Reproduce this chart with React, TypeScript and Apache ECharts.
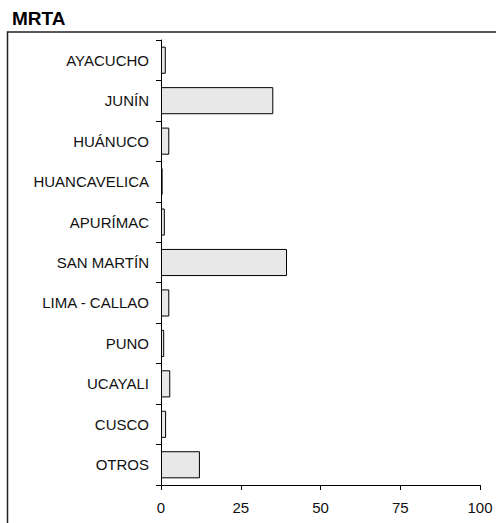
import React, { useEffect, useRef } from "react";
import * as echarts from "echarts";

const categories = [
  "AYACUCHO",
  "JUNÍN",
  "HUÁNUCO",
  "HUANCAVELICA",
  "APURÍMAC",
  "SAN MARTÍN",
  "LIMA - CALLAO",
  "PUNO",
  "UCAYALI",
  "CUSCO",
  "OTROS",
];
const values = [1.5, 35.2, 2.6, 0.5, 1.2, 39.5, 2.6, 1.0, 2.9, 1.6, 12.2];
const xTicks = [0, 25, 50, 75, 100];
const title = "MRTA";

const FONT = "'Liberation Sans', Arial, sans-serif";

export default function App() {
  const ref = useRef<HTMLDivElement>(null);
  useEffect(() => {
    if (!ref.current) return;
    const chart = echarts.init(ref.current, null, { renderer: "svg" });
    chart.setOption({
      animation: false,
      backgroundColor: "#fff",
      title: {
        text: title,
        left: 12,
        top: 9,
        padding: 0,
        textStyle: { fontFamily: FONT, fontSize: 19, fontWeight: "bold", color: "#000" },
      },
      graphic: [
        {
          type: "rect",
          shape: { x: 7.5, y: 32, width: 700, height: 700 },
          style: { fill: "none", stroke: "#222", lineWidth: 1.5 },
          z: 0,
        },
      ],
      grid: { left: 161, right: 16, top: 40, bottom: 38, containLabel: false },
      xAxis: {
        type: "value",
        min: xTicks[0],
        max: xTicks[xTicks.length - 1],
        interval: 25,
        axisLine: { show: true, lineStyle: { color: "#000", width: 1 } },
        axisTick: { show: true, length: 5, lineStyle: { color: "#000" } },
        axisLabel: { fontFamily: FONT, fontSize: 15, color: "#111", margin: 15 },
        splitLine: { show: false },
      },
      yAxis: {
        type: "category",
        data: categories,
        inverse: true,
        axisLine: { show: true, lineStyle: { color: "#000", width: 1 } },
        axisTick: { show: true, length: 5, lineStyle: { color: "#000" } },
        axisLabel: { fontFamily: FONT, fontSize: 15, color: "#111", margin: 12 },
      },
      series: [
        {
          type: "bar",
          data: values,
          barCategoryGap: "33%",
          z: 3,
          itemStyle: { color: "#e8e8e8", borderColor: "#000", borderWidth: 1 },
        },
      ],
    });
    return () => chart.dispose();
  }, []);
  return (
    <div
      ref={ref}
      style={{ position: "fixed", left: 0, top: 0, width: 496, height: 523 }}
    />
  );
}
